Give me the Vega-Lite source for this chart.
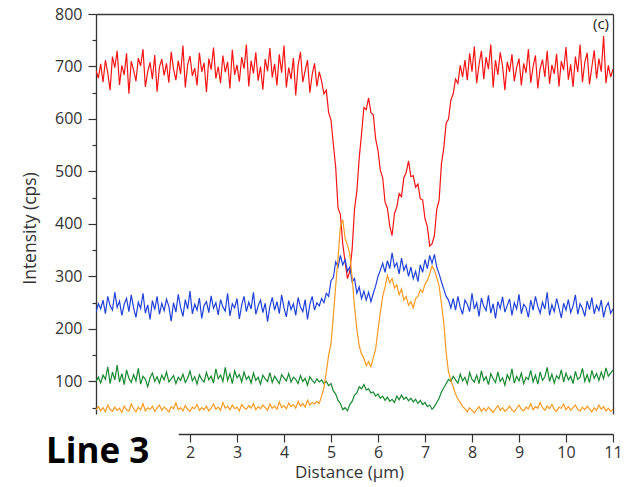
{
"$schema": "https://vega.github.io/schema/vega-lite/v6.json",
"width": 517,
"height": 400,
"autosize": {"type": "none"},
"padding": {"left": 96, "top": 14, "right": 12, "bottom": 73},
"background": "white",
"config": {"view": {"stroke": null}, "font": "Open Sans"},
"title": {"text": "Line 3", "orient": "bottom", "anchor": "start", "frame": "group", "font": "Open Sans", "fontSize": 35, "fontWeight": 700, "color": "#000000", "baseline": "alphabetic", "offset": 0, "dx": -50, "dy": -17},
"layer": [
{
"data": {"values": [
{"x":0,"r":692,"b":232,"g":100,"o":46},
{"x":0.05,"r":678,"b":248,"g":108,"o":52},
{"x":0.1,"r":705,"b":238,"g":97,"o":44},
{"x":0.15,"r":670,"b":255,"g":112,"o":50},
{"x":0.2,"r":712,"b":229,"g":104,"o":42},
{"x":0.25,"r":688,"b":262,"g":128,"o":55},
{"x":0.3,"r":655,"b":244,"g":96,"o":47},
{"x":0.35,"r":719,"b":236,"g":118,"o":43},
{"x":0.4,"r":698,"b":270,"g":103,"o":51},
{"x":0.45,"r":730,"b":241,"g":131,"o":45},
{"x":0.5,"r":665,"b":253,"g":99,"o":49},
{"x":0.55,"r":702,"b":226,"g":115,"o":41},
{"x":0.6,"r":684,"b":247,"g":94,"o":53},
{"x":0.65,"r":725,"b":258,"g":122,"o":46},
{"x":0.7,"r":648,"b":233,"g":106,"o":44},
{"x":0.75,"r":710,"b":265,"g":98,"o":57},
{"x":0.8,"r":693,"b":240,"g":113,"o":48},
{"x":0.85,"r":672,"b":222,"g":101,"o":42},
{"x":0.9,"r":716,"b":251,"g":125,"o":51},
{"x":0.95,"r":701,"b":239,"g":95,"o":46},
{"x":1.0,"r":733,"b":268,"g":110,"o":58},
{"x":1.05,"r":661,"b":230,"g":104,"o":44},
{"x":1.1,"r":690,"b":246,"g":90,"o":50},
{"x":1.15,"r":708,"b":218,"g":107,"o":47},
{"x":1.2,"r":676,"b":254,"g":116,"o":53},
{"x":1.25,"r":722,"b":237,"g":100,"o":43},
{"x":1.3,"r":652,"b":262,"g":109,"o":49},
{"x":1.35,"r":699,"b":228,"g":97,"o":55},
{"x":1.4,"r":714,"b":249,"g":112,"o":45},
{"x":1.45,"r":683,"b":235,"g":103,"o":51},
{"x":1.5,"r":706,"b":257,"g":118,"o":47},
{"x":1.55,"r":669,"b":243,"g":99,"o":42},
{"x":1.6,"r":728,"b":215,"g":105,"o":52},
{"x":1.65,"r":695,"b":250,"g":111,"o":48},
{"x":1.7,"r":674,"b":232,"g":96,"o":59},
{"x":1.75,"r":711,"b":266,"g":108,"o":46},
{"x":1.8,"r":686,"b":241,"g":102,"o":50},
{"x":1.85,"r":740,"b":224,"g":114,"o":44},
{"x":1.9,"r":660,"b":256,"g":98,"o":54},
{"x":1.95,"r":703,"b":238,"g":106,"o":47},
{"x":2.0,"r":720,"b":272,"g":120,"o":43},
{"x":2.05,"r":682,"b":229,"g":101,"o":51},
{"x":2.1,"r":697,"b":247,"g":109,"o":48},
{"x":2.15,"r":664,"b":236,"g":95,"o":56},
{"x":2.2,"r":726,"b":259,"g":113,"o":45},
{"x":2.25,"r":690,"b":220,"g":104,"o":50},
{"x":2.3,"r":707,"b":245,"g":99,"o":46},
{"x":2.35,"r":651,"b":252,"g":117,"o":53},
{"x":2.4,"r":715,"b":231,"g":103,"o":44},
{"x":2.45,"r":694,"b":263,"g":110,"o":49},
{"x":2.5,"r":736,"b":239,"g":97,"o":57},
{"x":2.55,"r":677,"b":250,"g":124,"o":47},
{"x":2.6,"r":700,"b":227,"g":105,"o":51},
{"x":2.65,"r":668,"b":256,"g":112,"o":45},
{"x":2.7,"r":721,"b":242,"g":100,"o":60},
{"x":2.75,"r":689,"b":234,"g":127,"o":49},
{"x":2.8,"r":709,"b":268,"g":102,"o":53},
{"x":2.85,"r":658,"b":225,"g":115,"o":46},
{"x":2.9,"r":732,"b":248,"g":96,"o":55},
{"x":2.95,"r":684,"b":240,"g":120,"o":48},
{"x":3.0,"r":703,"b":258,"g":107,"o":51},
{"x":3.05,"r":671,"b":219,"g":113,"o":44},
{"x":3.1,"r":718,"b":246,"g":99,"o":56},
{"x":3.15,"r":696,"b":262,"g":118,"o":50},
{"x":3.2,"r":742,"b":233,"g":104,"o":47},
{"x":3.25,"r":662,"b":251,"g":110,"o":54},
{"x":3.3,"r":711,"b":238,"g":97,"o":49},
{"x":3.35,"r":687,"b":270,"g":116,"o":58},
{"x":3.4,"r":727,"b":228,"g":102,"o":46},
{"x":3.45,"r":673,"b":244,"g":108,"o":52},
{"x":3.5,"r":700,"b":255,"g":95,"o":48},
{"x":3.55,"r":656,"b":231,"g":112,"o":55},
{"x":3.6,"r":714,"b":249,"g":105,"o":50},
{"x":3.65,"r":691,"b":214,"g":100,"o":45},
{"x":3.7,"r":735,"b":243,"g":117,"o":57},
{"x":3.75,"r":679,"b":260,"g":98,"o":49},
{"x":3.8,"r":705,"b":236,"g":110,"o":53},
{"x":3.85,"r":664,"b":252,"g":103,"o":47},
{"x":3.9,"r":723,"b":229,"g":96,"o":61},
{"x":3.95,"r":688,"b":265,"g":113,"o":50},
{"x":4.0,"r":740,"b":240,"g":107,"o":54},
{"x":4.05,"r":660,"b":223,"g":101,"o":48},
{"x":4.1,"r":698,"b":254,"g":115,"o":59},
{"x":4.15,"r":676,"b":237,"g":99,"o":52},
{"x":4.2,"r":716,"b":248,"g":108,"o":56},
{"x":4.25,"r":645,"b":226,"g":104,"o":49},
{"x":4.3,"r":702,"b":260,"g":96,"o":62},
{"x":4.35,"r":728,"b":242,"g":111,"o":53},
{"x":4.4,"r":670,"b":233,"g":100,"o":58},
{"x":4.45,"r":692,"b":256,"g":106,"o":51},
{"x":4.5,"r":712,"b":218,"g":93,"o":64},
{"x":4.55,"r":650,"b":247,"g":109,"o":55},
{"x":4.6,"r":685,"b":262,"g":102,"o":60},
{"x":4.65,"r":706,"b":236,"g":97,"o":57},
{"x":4.7,"r":662,"b":250,"g":105,"o":62},
{"x":4.75,"r":690,"b":244,"g":99,"o":58},
{"x":4.8,"r":672,"b":258,"g":103,"o":72},
{"x":4.85,"r":648,"b":250,"g":96,"o":88},
{"x":4.9,"r":655,"b":268,"g":100,"o":118},
{"x":4.95,"r":612,"b":262,"g":92,"o":150},
{"x":5.0,"r":598,"b":292,"g":96,"o":172},
{"x":5.05,"r":552,"b":298,"g":82,"o":225},
{"x":5.1,"r":508,"b":328,"g":76,"o":282},
{"x":5.15,"r":430,"b":318,"g":64,"o":335},
{"x":5.2,"r":418,"b":340,"g":58,"o":395},
{"x":5.25,"r":362,"b":322,"g":46,"o":408},
{"x":5.3,"r":328,"b":332,"g":50,"o":372},
{"x":5.35,"r":296,"b":310,"g":44,"o":360},
{"x":5.4,"r":310,"b":318,"g":56,"o":342},
{"x":5.45,"r":352,"b":290,"g":62,"o":298},
{"x":5.5,"r":428,"b":296,"g":74,"o":242},
{"x":5.55,"r":462,"b":268,"g":78,"o":200},
{"x":5.6,"r":525,"b":280,"g":90,"o":168},
{"x":5.65,"r":572,"b":258,"g":86,"o":152},
{"x":5.7,"r":622,"b":272,"g":94,"o":144},
{"x":5.75,"r":618,"b":255,"g":84,"o":130},
{"x":5.8,"r":640,"b":270,"g":86,"o":138},
{"x":5.85,"r":612,"b":252,"g":78,"o":128},
{"x":5.9,"r":608,"b":268,"g":80,"o":145},
{"x":5.95,"r":562,"b":282,"g":72,"o":162},
{"x":6.0,"r":540,"b":300,"g":76,"o":198},
{"x":6.05,"r":502,"b":312,"g":68,"o":232},
{"x":6.1,"r":488,"b":325,"g":72,"o":262},
{"x":6.15,"r":442,"b":308,"g":64,"o":280},
{"x":6.2,"r":430,"b":330,"g":70,"o":302},
{"x":6.25,"r":396,"b":315,"g":62,"o":288},
{"x":6.3,"r":378,"b":345,"g":66,"o":296},
{"x":6.35,"r":420,"b":318,"g":60,"o":278},
{"x":6.4,"r":432,"b":326,"g":72,"o":284},
{"x":6.45,"r":458,"b":305,"g":65,"o":265},
{"x":6.5,"r":452,"b":335,"g":74,"o":276},
{"x":6.55,"r":488,"b":312,"g":66,"o":255},
{"x":6.6,"r":498,"b":322,"g":70,"o":262},
{"x":6.65,"r":520,"b":300,"g":63,"o":245},
{"x":6.7,"r":490,"b":318,"g":68,"o":252},
{"x":6.75,"r":492,"b":296,"g":61,"o":240},
{"x":6.8,"r":470,"b":310,"g":66,"o":258},
{"x":6.85,"r":476,"b":290,"g":58,"o":262},
{"x":6.9,"r":448,"b":322,"g":64,"o":275},
{"x":6.95,"r":446,"b":308,"g":56,"o":270},
{"x":7.0,"r":410,"b":332,"g":60,"o":285},
{"x":7.05,"r":395,"b":315,"g":52,"o":292},
{"x":7.1,"r":358,"b":340,"g":55,"o":305},
{"x":7.15,"r":362,"b":325,"g":47,"o":320},
{"x":7.2,"r":378,"b":342,"g":52,"o":312},
{"x":7.25,"r":428,"b":318,"g":60,"o":298},
{"x":7.3,"r":445,"b":305,"g":68,"o":282},
{"x":7.35,"r":515,"b":290,"g":80,"o":248},
{"x":7.4,"r":545,"b":276,"g":88,"o":212},
{"x":7.45,"r":592,"b":262,"g":96,"o":155},
{"x":7.5,"r":600,"b":255,"g":104,"o":118},
{"x":7.55,"r":636,"b":240,"g":100,"o":102},
{"x":7.6,"r":648,"b":258,"g":110,"o":90},
{"x":7.65,"r":676,"b":236,"g":103,"o":76},
{"x":7.7,"r":668,"b":262,"g":97,"o":66},
{"x":7.75,"r":702,"b":241,"g":114,"o":60},
{"x":7.8,"r":680,"b":228,"g":101,"o":52},
{"x":7.85,"r":712,"b":255,"g":108,"o":48},
{"x":7.9,"r":674,"b":247,"g":95,"o":42},
{"x":7.95,"r":725,"b":233,"g":117,"o":50},
{"x":8.0,"r":690,"b":268,"g":104,"o":45},
{"x":8.05,"r":738,"b":238,"g":99,"o":40},
{"x":8.1,"r":668,"b":250,"g":112,"o":47},
{"x":8.15,"r":704,"b":224,"g":96,"o":52},
{"x":8.2,"r":730,"b":259,"g":120,"o":43},
{"x":8.25,"r":676,"b":243,"g":102,"o":49},
{"x":8.3,"r":718,"b":235,"g":109,"o":44},
{"x":8.35,"r":695,"b":264,"g":94,"o":51},
{"x":8.4,"r":742,"b":230,"g":115,"o":46},
{"x":8.45,"r":660,"b":248,"g":105,"o":41},
{"x":8.5,"r":712,"b":220,"g":98,"o":48},
{"x":8.55,"r":684,"b":252,"g":118,"o":54},
{"x":8.6,"r":727,"b":239,"g":100,"o":45},
{"x":8.65,"r":701,"b":261,"g":107,"o":50},
{"x":8.7,"r":655,"b":232,"g":93,"o":43},
{"x":8.75,"r":709,"b":245,"g":113,"o":47},
{"x":8.8,"r":690,"b":257,"g":103,"o":53},
{"x":8.85,"r":723,"b":226,"g":124,"o":46},
{"x":8.9,"r":672,"b":250,"g":97,"o":42},
{"x":8.95,"r":698,"b":238,"g":110,"o":49},
{"x":9.0,"r":715,"b":266,"g":101,"o":55},
{"x":9.05,"r":664,"b":229,"g":116,"o":47},
{"x":9.1,"r":706,"b":247,"g":96,"o":44},
{"x":9.15,"r":688,"b":241,"g":108,"o":51},
{"x":9.2,"r":733,"b":222,"g":104,"o":48},
{"x":9.25,"r":669,"b":255,"g":121,"o":58},
{"x":9.3,"r":700,"b":236,"g":99,"o":46},
{"x":9.35,"r":721,"b":262,"g":112,"o":52},
{"x":9.4,"r":658,"b":243,"g":95,"o":49},
{"x":9.45,"r":696,"b":230,"g":118,"o":60},
{"x":9.5,"r":713,"b":251,"g":102,"o":50},
{"x":9.55,"r":680,"b":238,"g":109,"o":45},
{"x":9.6,"r":730,"b":270,"g":127,"o":53},
{"x":9.65,"r":667,"b":226,"g":100,"o":48},
{"x":9.7,"r":703,"b":246,"g":114,"o":56},
{"x":9.75,"r":686,"b":233,"g":97,"o":47},
{"x":9.8,"r":724,"b":258,"g":111,"o":43},
{"x":9.85,"r":662,"b":240,"g":105,"o":51},
{"x":9.9,"r":710,"b":221,"g":122,"o":49},
{"x":9.95,"r":693,"b":249,"g":99,"o":57},
{"x":10.0,"r":737,"b":236,"g":116,"o":46},
{"x":10.05,"r":675,"b":256,"g":103,"o":52},
{"x":10.1,"r":704,"b":231,"g":110,"o":45},
{"x":10.15,"r":661,"b":244,"g":96,"o":50},
{"x":10.2,"r":719,"b":265,"g":119,"o":55},
{"x":10.25,"r":689,"b":228,"g":104,"o":47},
{"x":10.3,"r":742,"b":248,"g":108,"o":44},
{"x":10.35,"r":670,"b":239,"g":125,"o":51},
{"x":10.4,"r":708,"b":224,"g":100,"o":46},
{"x":10.45,"r":726,"b":253,"g":113,"o":53},
{"x":10.5,"r":666,"b":237,"g":98,"o":48},
{"x":10.55,"r":699,"b":260,"g":121,"o":42},
{"x":10.6,"r":731,"b":229,"g":106,"o":50},
{"x":10.65,"r":677,"b":245,"g":115,"o":45},
{"x":10.7,"r":715,"b":235,"g":102,"o":55},
{"x":10.75,"r":690,"b":255,"g":118,"o":47},
{"x":10.8,"r":758,"b":222,"g":105,"o":52},
{"x":10.85,"r":668,"b":242,"g":126,"o":44},
{"x":10.9,"r":702,"b":250,"g":110,"o":49},
{"x":10.95,"r":680,"b":230,"g":116,"o":43},
{"x":11.0,"r":695,"b":238,"g":122,"o":47}
]},
"transform": [{"fold": ["r", "b", "g", "o"], "as": ["s", "v"]}],
"mark": {"type": "line", "strokeWidth": 1.2, "clip": true},
"encoding": {
"x": {"field": "x", "type": "quantitative", "scale": {"domain": [0, 11], "nice": false, "zero": false},
 "axis": {"orient": "top", "domain": true, "domainColor": "#3a3a3a", "domainWidth": 1.3, "ticks": false, "labels": false, "title": null, "grid": false}},
"y": {"field": "v", "type": "quantitative", "scale": {"domain": [38, 800], "nice": false, "zero": false},
 "axis": {"orient": "left", "values": [50,100,150,200,250,300,350,400,450,500,550,600,650,700,750,800],
  "labelExpr": "datum.value % 100 === 0 ? datum.label : ''",
  "tickSize": {"condition": {"test": "datum.value % 100 !== 0", "value": 4}, "value": 8},
  "tickColor": "#333333", "tickWidth": 1.2, "domainColor": "#333333", "domainWidth": 1.3,
  "labelFontSize": 16, "labelColor": "#333333", "labelPadding": 6, "grid": false,
  "title": "Intensity (cps)", "titleFontSize": 17.5, "titleFontWeight": "normal", "titleColor": "#333333",
  "titleX": -57, "titleY": 214, "titleBaseline": "bottom"}},
"color": {"field": "s", "type": "nominal", "scale": {"domain": ["r", "b", "g", "o"], "range": ["#f51515", "#2142d8", "#178a30", "#f99a22"]}, "legend": null}
}
},
{
"data": {"values": [{"x": 11, "y": 800, "t": "(c)"}]},
"mark": {"type": "text", "align": "right", "baseline": "top", "dx": -4, "dy": 3, "fontSize": 15, "color": "#222222"},
"encoding": {
"x": {"field": "x", "type": "quantitative", "scale": {"domain": [1.75, 11], "range": [82.25, 517], "nice": false, "zero": false},
 "axis": {"orient": "bottom", "offset": 20, "values": [2,2.5,3,3.5,4,4.5,5,5.5,6,6.5,7,7.5,8,8.5,9,9.5,10,10.5,11],
  "format": "d",
  "labelExpr": "datum.value % 1 === 0 ? datum.label : ''",
  "tickSize": {"condition": {"test": "datum.value % 1 !== 0", "value": 4}, "value": 8},
  "tickColor": "#333333", "tickWidth": 1.2, "domainColor": "#333333", "domainWidth": 1.3,
  "labelFontSize": 16, "labelColor": "#333333", "labelPadding": 2, "labelFlush": false, "labelOverlap": false, "grid": false,
  "title": "Distance (µm)", "titleFontSize": 17, "titleFontWeight": "normal", "titleColor": "#333333", "titlePadding": 4, "titleX": 253}},
"y": {"field": "y", "type": "quantitative", "scale": {"domain": [38, 800], "nice": false, "zero": false},
 "axis": {"orient": "right", "domain": true, "domainColor": "#3a3a3a", "domainWidth": 1.3, "ticks": false, "labels": false, "title": null, "grid": false}},
"text": {"field": "t"}
}
}
],
"resolve": {"scale": {"x": "independent"}, "axis": {"x": "independent", "y": "independent"}}
}
